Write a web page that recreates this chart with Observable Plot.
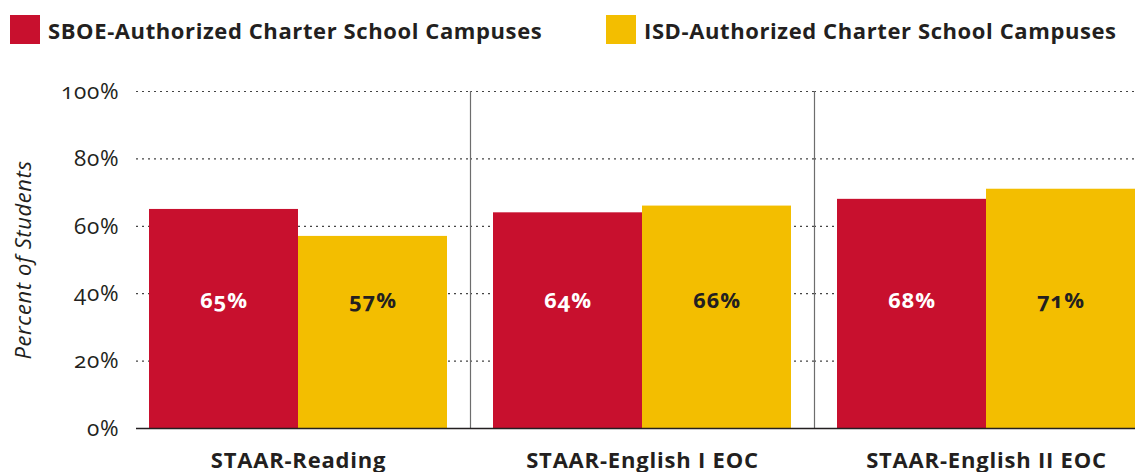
<!DOCTYPE html>
<html>
<head>
<meta charset="utf-8">
<script src="https://cdn.jsdelivr.net/npm/d3@7"></script>
<script src="https://cdn.jsdelivr.net/npm/@observablehq/plot@0.6"></script>
<style>
  html, body { margin: 0; padding: 0; background: #fff; overflow: hidden; width: 1135px; height: 472px; }
  body { font-family: "Open Sans", sans-serif; color: #231f20; }
  #legend { position: relative; height: 60px; width: 1135px; }
  .item { position: absolute; top: 15px; display: flex; align-items: center; height: 29px; }
  .sw { width: 30px; height: 29px; margin-right: 8px; }
  .lab { font-size: 22px; font-weight: 700; letter-spacing: 0.6px; white-space: nowrap; }
  #chart svg { display: block; overflow: visible; max-width: none !important; }
  #chart g[aria-label="fx-axis tick label"] text { letter-spacing: 0.8px; }
  #chart g[aria-label="y-axis tick label"] text { letter-spacing: 0.8px; font-variant-numeric: oldstyle-nums; }
  #chart g[aria-label="y-axis label"] text { letter-spacing: 0.6px; }
  #chart g[aria-label="text"] text { letter-spacing: 1px; font-variant-numeric: oldstyle-nums; }
</style>
</head>
<body>
<div id="legend"></div>
<div id="chart"></div>
<script>
const groups = ["STAAR-Reading", "STAAR-English I EOC", "STAAR-English II EOC"];
const series = ["SBOE-Authorized Charter School Campuses", "ISD-Authorized Charter School Campuses"];
const sboeValues = [65, 64, 68];
const isdValues = [57, 66, 71];
const yTicks = [0, 20, 40, 60, 80, 100];
const gridTicks = [20, 40, 60, 80, 100];
const colors = ["#C8102E", "#F3BE00"];
const labelLevel = 38;

const rows = groups.flatMap((g, i) => [
  {group: g, series: series[0], value: sboeValues[i]},
  {group: g, series: series[1], value: isdValues[i]}
]);
const gridFirst = gridTicks.map(y => ({group: groups[0], y}));
const gridRest = groups.slice(1).flatMap(g => gridTicks.map(y => ({group: g, y})));

// legend
const legend = document.getElementById("legend");
const legendX = [10, 606];
series.forEach((s, i) => {
  const it = document.createElement("div");
  it.className = "item";
  it.style.left = legendX[i] + "px";
  it.innerHTML = `<div class="sw" style="background:${colors[i]}"></div><div class="lab">${s}</div>`;
  legend.appendChild(it);
});

const chart = Plot.plot({
  width: 1158,
  height: 412,
  marginLeft: 126,
  marginRight: 0,
  marginTop: 31,
  marginBottom: 44,
  style: {fontFamily: "Open Sans, sans-serif", fontSize: "20px", color: "#231f20", background: "transparent", maxWidth: "none"},
  fx: {domain: groups, paddingInner: 0, paddingOuter: 0, label: null},
  x: {domain: series, paddingInner: 0, paddingOuter: 0.147, axis: null},
  y: {domain: [0, 100], label: null},
  color: {domain: series, range: colors},
  marks: [
    Plot.ruleY(gridFirst, {fx: "group", y: "y", insetLeft: 10, stroke: "#444", strokeWidth: 1.2, strokeDasharray: "2,4"}),
    Plot.ruleY(gridRest, {fx: "group", y: "y", stroke: "#444", strokeWidth: 1.2, strokeDasharray: "2,4"}),
    Plot.frame({anchor: "right", stroke: "#6d6d6d", strokeWidth: 1.2}),
    Plot.barY(rows, {fx: "group", x: "series", y: "value", fill: "series"}),
    Plot.ruleY([{group: groups[0], y: 0}], {fx: "group", y: "y", insetLeft: 10, stroke: "#231f20", strokeWidth: 1.5}),
    Plot.ruleY(groups.slice(1).map(g => ({group: g, y: 0})), {fx: "group", y: "y", stroke: "#231f20", strokeWidth: 1.5}),
    Plot.text(rows.filter(d => d.series === series[0]), {fx: "group", x: "series", y: () => labelLevel, text: d => d.value + "%", fill: "white", fontWeight: 700, fontSize: 22, dy: 1}),
    Plot.text(rows.filter(d => d.series === series[1]), {fx: "group", x: "series", y: () => labelLevel, text: d => d.value + "%", fill: "#231f20", fontWeight: 700, fontSize: 22, dy: 1}),
    Plot.axisY({anchor: "left", ticks: yTicks, tickFormat: d => d + "%", tickSize: 0, tickPadding: 7, fontSize: 22.5, label: null}),
    Plot.axisY({anchor: "left", ticks: [], label: "Percent of Students", labelAnchor: "center", labelOffset: 111, labelArrow: "none", fontStyle: "italic", fontSize: 22, tickSize: 0}),
    Plot.axisFx({anchor: "bottom", tickSize: 0, tickPadding: 24, fontWeight: 700, fontSize: 22, label: null})
  ]
});
document.getElementById("chart").appendChild(chart);
</script>
</body>
</html>
